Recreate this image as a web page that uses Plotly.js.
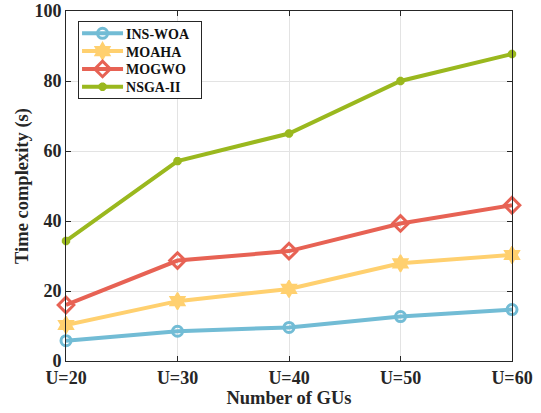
<!DOCTYPE html>
<html>
<head>
<meta charset="utf-8">
<script src="https://cdn.plot.ly/plotly-3.0.1.min.js"></script>
<style>
  html, body { margin: 0; padding: 0; background: #fff; }
  #chart { width: 541px; height: 413px; }
</style>
</head>
<body>
<div id="chart"></div>
<script>
// Number of ground users
const categories = ['U=20', 'U=30', 'U=40', 'U=50', 'U=60'];

// Running time (s) of each algorithm
const insWoa = [5.8, 8.5, 9.6, 12.7, 14.7];
const moaha  = [10.3, 17.1, 20.6, 27.9, 30.3];
const mogwo  = [16.0, 28.7, 31.4, 39.3, 44.5];
const nsga2  = [34.3, 57.1, 65.0, 80.0, 87.7];

const seriesNames = ['INS-WOA', 'MOAHA', 'MOGWO', 'NSGA-II'];
const seriesData = [insWoa, moaha, mogwo, nsga2];
const colors = ['#72BCD5', '#FFD06F', '#E76254', '#9AB81E'];
const symbols = ['circle-open', 'hexagram', 'diamond-open', 'asterisk-open'];
const sizes = [10, 13, 12, 7];
const edgeWidths = [3, 1.5, 3, 3];

const traces = seriesData.map((ys, i) => ({
  x: categories,
  y: ys,
  name: seriesNames[i],
  type: 'scatter',
  mode: 'lines+markers',
  cliponaxis: false,
  line: { color: colors[i], width: 4 },
  marker: {
    symbol: symbols[i],
    size: sizes[i],
    color: colors[i],
    line: { color: colors[i], width: edgeWidths[i] }
  }
}));

const serif = '"Liberation Serif", "Times New Roman", serif';
const ink = '#262626';

const layout = {
  width: 541,
  height: 413,
  margin: { l: 66, r: 29, t: 11, b: 52 },
  paper_bgcolor: '#fff',
  plot_bgcolor: '#fff',
  showlegend: true,
  font: { family: serif, color: ink },
  xaxis: {
    type: 'category',
    range: [0, 4],
    showgrid: true,
    gridcolor: '#e3e3e3',
    gridwidth: 1,
    showline: true,
    linecolor: ink,
    linewidth: 1,
    mirror: 'ticks',
    ticks: 'inside',
    ticklen: 5,
    tickcolor: ink,
    tickfont: { family: serif, size: 18, color: ink, weight: 'bold' },
    title: { text: 'Number of GUs', font: { family: serif, size: 18.5, color: ink, weight: 'bold' }, standoff: 4 },
    zeroline: false
  },
  yaxis: {
    range: [0, 100],
    tickvals: [0, 20, 40, 60, 80, 100],
    showgrid: true,
    gridcolor: '#e3e3e3',
    gridwidth: 1,
    showline: true,
    linecolor: ink,
    linewidth: 1,
    mirror: 'ticks',
    ticks: 'inside',
    ticklen: 5,
    tickcolor: ink,
    tickfont: { family: serif, size: 18, color: ink, weight: 'bold' },
    title: { text: 'Time complexity (s)', font: { family: serif, size: 18.5, color: ink, weight: 'bold' }, standoff: 0 },
    zeroline: false
  },
  legend: {
    x: 0.027,
    y: 0.972,
    xanchor: 'left',
    yanchor: 'top',
    bgcolor: '#fff',
    bordercolor: ink,
    borderwidth: 1,
    font: { family: serif, size: 14, color: '#111', weight: 'bold' },
    tracegroupgap: 0,
    itemwidth: 38
  }
};

// Compact legend: tighter rows and longer line samples
function tightenLegend(gd) {
  const legend = gd.querySelector('.legend');
  if (!legend) return;
  const rowH = 17.8, firstY = 12.5, boxW = 123;
  const items = legend.querySelectorAll('.traces');
  items.forEach((g, i) => {
    const m = /translate\(\s*([-\d.]+)[ ,]+([-\d.]+)\s*\)/.exec(g.getAttribute('transform') || '');
    const x = m ? parseFloat(m[1]) : 0;
    g.setAttribute('transform', 'translate(' + x + ',' + (firstY + i * rowH) + ')');
    g.querySelectorAll('.legendlines path').forEach(p => p.setAttribute('d', 'M3,0h41'));
    g.querySelectorAll('.legendpoints path').forEach(p => p.setAttribute('transform', 'translate(23.5,0)'));
    g.querySelectorAll('text.legendtext').forEach(t => t.setAttribute('x', 47));
  });
  const h = firstY * 2 + (items.length - 1) * rowH - 1;
  legend.querySelectorAll('rect.bg').forEach(r => {
    r.setAttribute('height', h);
    r.setAttribute('width', boxW);
  });
}

Plotly.newPlot('chart', traces, layout, { displayModeBar: false, staticPlot: true })
  .then(tightenLegend);
</script>
</body>
</html>
